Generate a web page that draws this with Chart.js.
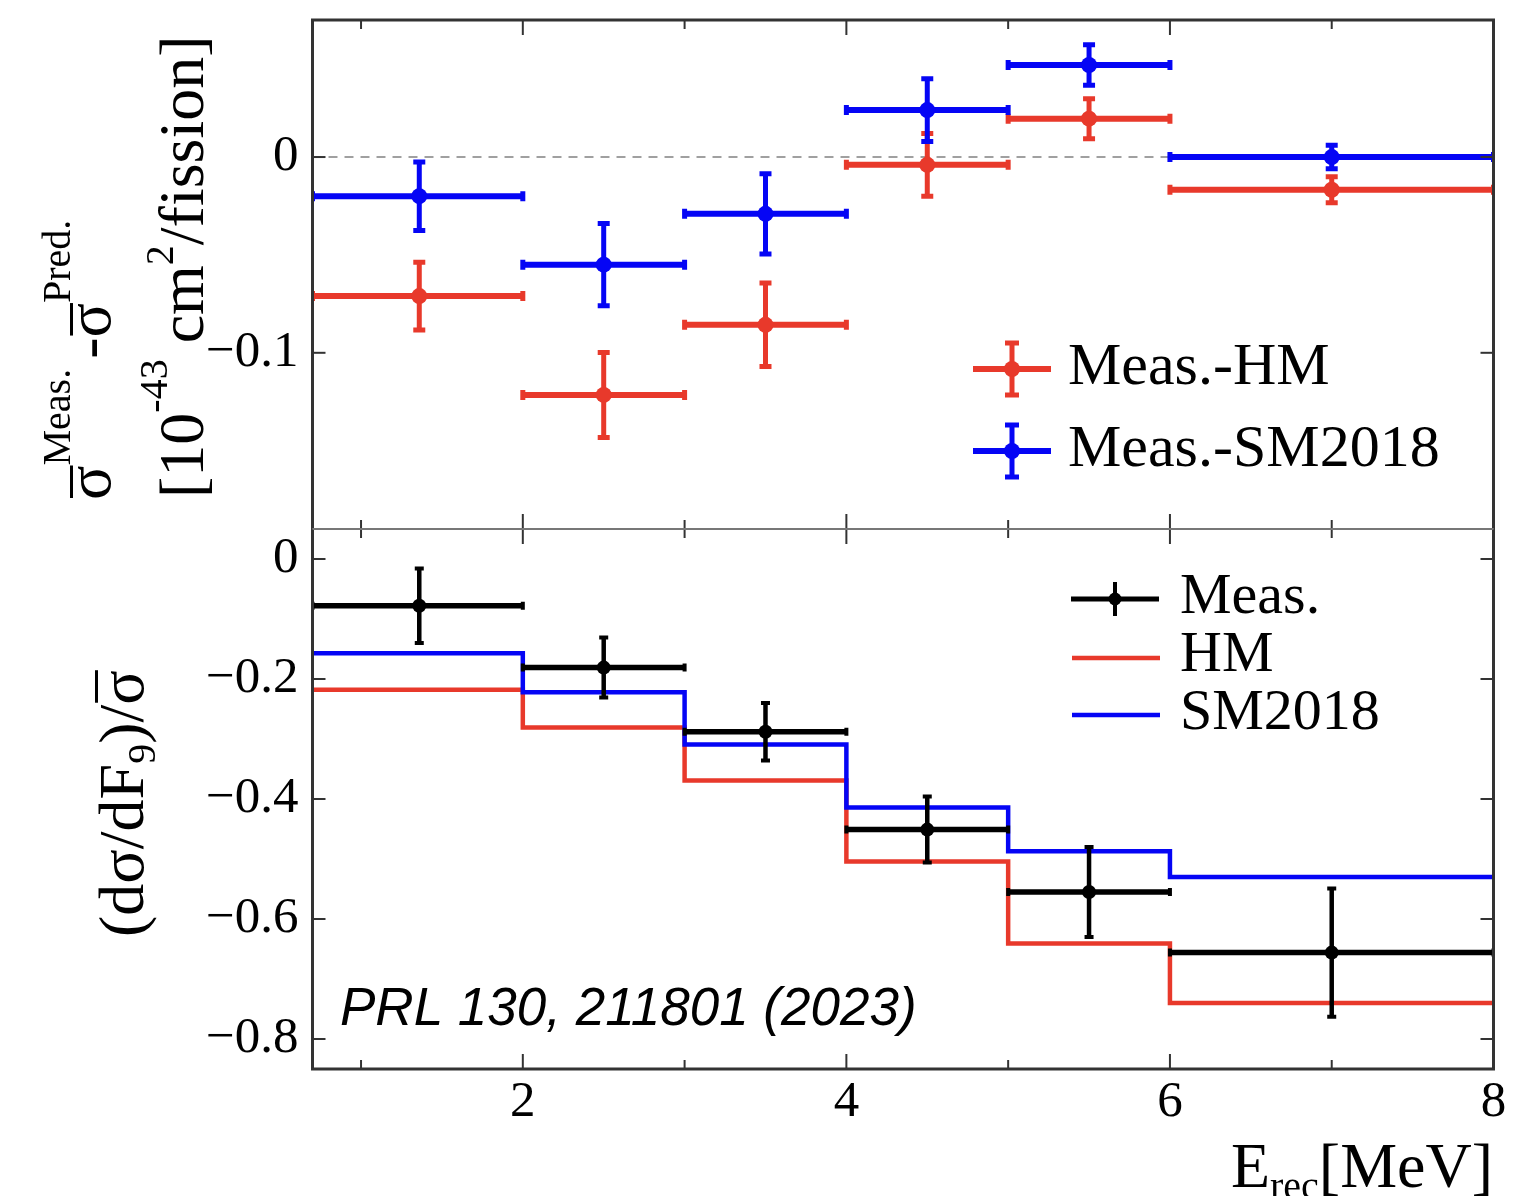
<!DOCTYPE html>
<html>
<head>
<meta charset="utf-8">
<title>Cross-section differences and slope</title>
<script src="https://cdn.jsdelivr.net/npm/chart.js@4.4.1/dist/chart.umd.min.js"></script>
<style>
html,body{margin:0;padding:0;background:#fff;overflow:hidden;}
#wrap{position:relative;width:1536px;height:1196px;background:#fff;}
#wrap canvas{position:absolute;left:0;top:0;}
</style>
</head>
<body>
<div id="wrap">
<canvas id="cTop" width="1536" height="1196"></canvas>
<canvas id="cBot" width="1536" height="1196"></canvas>
</div>
<script>
// ---------------- data ----------------
const binLow    = [0.7, 2, 3, 4, 5, 6];
const binHigh   = [2, 3, 4, 5, 6, 8];
const binCenter = [1.36, 2.5, 3.5, 4.5, 5.5, 7.0];

// top panel: sigma_meas - sigma_pred  [1e-43 cm2/fission]
const topSeriesNames = ['Meas.-HM', 'Meas.-SM2018'];
const measMinusHM      = [-0.071, -0.1215, -0.0857, -0.004, 0.0196, -0.0167];
const measMinusHMErr   = [0.0173, 0.0217, 0.0213, 0.016, 0.0102, 0.0066];
const measMinusSM      = [-0.020, -0.055, -0.029, 0.024, 0.047, 0.000];
const measMinusSMErr   = [0.0175, 0.021, 0.0205, 0.016, 0.0103, 0.006];

// bottom panel: (dsigma/dF9)/sigma
const botSeriesNames = ['Meas.', 'HM', 'SM2018'];
const measSlope    = [-0.078, -0.181, -0.288, -0.451, -0.555, -0.656];
const measSlopeErr = [0.062, 0.050, 0.048, 0.055, 0.075, 0.107];
const hmSlope      = [-0.218, -0.281, -0.369, -0.504, -0.641, -0.740];
const smSlope      = [-0.157, -0.222, -0.309, -0.414, -0.487, -0.530];

// axes
const xRange = [0.7, 8];
const xTickLabels = [2, 4, 6, 8];
const xTickMarks = [1, 2, 3, 4, 5, 6, 7];
const topYRange = [-0.19, 0.07];
const topYTicks = [0, -0.1];
const botYRange = [-0.85, 0.05];
const botYTicks = [0, -0.2, -0.4, -0.6, -0.8];
const refText = 'PRL 130, 211801 (2023)';

// ---------------- style ----------------
const RED = '#e8392b';
const BLUE = '#0505f5';
const BLACK = '#000000';
const SERIF = '"Liberation Serif", "Times New Roman", serif';
const AREA = {left: 312.5, right: 1493.5, top: 20, mid: 529, bottom: 1069};

function fmt(v) {
  if (Math.abs(v) < 1e-9) return '0';
  const s = String(Math.round(Math.abs(v) * 1000) / 1000);
  return (v < 0 ? '\u2212' : '') + s;
}

function errorBarDatasets(label, y, e, color, st) {
  const h = [], v = [];
  for (let i = 0; i < y.length; i++) {
    h.push({x: binLow[i], y: y[i]}, {x: binHigh[i], y: y[i]}, {x: binHigh[i], y: null});
    v.push({x: binCenter[i], y: y[i] - e[i]}, {x: binCenter[i], y: y[i] + e[i]}, {x: binCenter[i], y: null});
  }
  const pts = binCenter.map((x, i) => ({x, y: y[i]}));
  return [
    {label: label, data: pts, showLine: false, pointStyle: 'circle', pointRadius: st.dot,
     pointBackgroundColor: color, pointBorderColor: color, pointBorderWidth: 0},
    {label: label + ' (err)', data: v, showLine: true, spanGaps: false, borderColor: color,
     borderWidth: st.vw, pointStyle: 'line', pointRotation: 0, pointRadius: st.capV,
     pointBorderWidth: st.capW, pointBorderColor: color},
    {label: label + ' (bin)', data: h, showLine: true, spanGaps: false, borderColor: color,
     borderWidth: st.hw, pointStyle: 'line', pointRotation: 90, pointRadius: st.capH,
     pointBorderWidth: st.capW, pointBorderColor: color}
  ];
}

function stepData(vals) {
  const d = vals.map((v, i) => ({x: binLow[i], y: v}));
  d.push({x: binHigh[binHigh.length - 1], y: vals[vals.length - 1]});
  return d;
}

function drawRich(ctx, parts, x, y, angle, align) {
  ctx.save();
  ctx.translate(x, y);
  if (angle) ctx.rotate(angle);
  ctx.fillStyle = '#000';
  ctx.textBaseline = 'alphabetic';
  ctx.textAlign = 'left';
  let total = 0;
  for (const p of parts) {
    ctx.font = p.size + 'px ' + SERIF;
    total += ctx.measureText(p.t).width + (p.gap || 0);
  }
  let cx = align === 'right' ? -total : 0;
  for (const p of parts) {
    ctx.font = p.size + 'px ' + SERIF;
    const w = ctx.measureText(p.t).width;
    ctx.fillText(p.t, cx, p.dy || 0);
    if (p.over) ctx.fillRect(cx + 2, -p.over, w - 2, 3);
    cx += w + (p.gap || 0);
  }
  ctx.restore();
}

function seg(ctx, x1, y1, x2, y2) {
  ctx.beginPath(); ctx.moveTo(x1, y1); ctx.lineTo(x2, y2); ctx.stroke();
}

function drawFrame(chart, yTicks, lightEdge) {
  const {ctx, chartArea: a, scales: {x, y}} = chart;
  ctx.save();
  ctx.strokeStyle = '#333';
  ctx.lineWidth = 2;
  for (const v of xTickMarks) {
    const px = x.getPixelForValue(v);
    const L = (v % 2 === 0) ? 15 : 9;
    seg(ctx, px, a.top, px, a.top + L);
    seg(ctx, px, a.bottom, px, a.bottom - L);
  }
  for (const v of yTicks) {
    const py = y.getPixelForValue(v);
    seg(ctx, a.left, py, a.left + 13, py);
    seg(ctx, a.right, py, a.right - 13, py);
  }
  ctx.lineWidth = 3;
  ctx.strokeStyle = '#333';
  seg(ctx, a.left, a.top, a.left, a.bottom);
  seg(ctx, a.right, a.top, a.right, a.bottom);
  if (lightEdge === 'bottom') seg(ctx, a.left - 1.5, a.top, a.right + 1.5, a.top);
  else seg(ctx, a.left - 1.5, a.bottom, a.right + 1.5, a.bottom);
  ctx.strokeStyle = '#777';
  ctx.lineWidth = 2;
  if (lightEdge === 'bottom') seg(ctx, a.left, a.bottom, a.right, a.bottom);
  else seg(ctx, a.left, a.top, a.right, a.top);
  ctx.restore();
}

function errSymbol(ctx, cx, cy, color, halfW, halfH, caps, dot, hw, vw) {
  ctx.save();
  ctx.strokeStyle = color; ctx.fillStyle = color;
  ctx.lineWidth = hw; seg(ctx, cx - halfW, cy, cx + halfW, cy);
  ctx.lineWidth = vw; seg(ctx, cx, cy - halfH, cx, cy + halfH);
  if (caps) {
    ctx.lineWidth = 5;
    seg(ctx, cx - 7, cy - halfH, cx + 7, cy - halfH);
    seg(ctx, cx - 7, cy + halfH, cx + 7, cy + halfH);
  }
  ctx.beginPath(); ctx.arc(cx, cy, dot, 0, Math.PI * 2); ctx.fill();
  ctx.restore();
}

const fixY = (w) => (s) => { s.width = w; s.paddingTop = 0; s.paddingBottom = 0; };
const fixX = (h) => (s) => { s.height = h; s.paddingLeft = 0; s.paddingRight = 0; };

// ---------------- top chart ----------------
const topStyle = {dot: 8, vw: 5, hw: 6, capV: 6, capH: 5, capW: 5};
const topDatasets = [
  ...errorBarDatasets(topSeriesNames[1], measMinusSM, measMinusSMErr, BLUE, topStyle),
  ...errorBarDatasets(topSeriesNames[0], measMinusHM, measMinusHMErr, RED, topStyle),
  {label: 'zero', data: [{x: xRange[0], y: 0}, {x: xRange[1], y: 0}], showLine: true,
   borderColor: '#a0a0a0', borderWidth: 2, borderDash: [9, 7], pointRadius: 0}
];

const topDeco = {
  id: 'topDeco',
  afterDatasetsDraw(chart) { drawFrame(chart, topYTicks, 'bottom'); },
  afterDraw(chart) {
    const ctx = chart.ctx;
    // y title, two lines
    drawRich(ctx, [
      {t: '\u03c3', size: 64, over: 40},
      {t: 'Meas.', size: 40, dy: -40, gap: 10},
      {t: '-', size: 64},
      {t: '\u03c3', size: 64, over: 40},
      {t: 'Pred.', size: 40, dy: -40}
    ], 110, 500, -Math.PI / 2);
    drawRich(ctx, [
      {t: '[10', size: 64},
      {t: '-43', size: 40, dy: -36},
      {t: ' cm', size: 64},
      {t: '2', size: 40, dy: -30},
      {t: '/fission]', size: 64}
    ], 203, 498, -Math.PI / 2);
    // legend
    const rows = [{n: topSeriesNames[0], c: RED, y: 369}, {n: topSeriesNames[1], c: BLUE, y: 451}];
    for (const r of rows) {
      errSymbol(ctx, 1012, r.y, r.c, 39, 26, true, 8, 6, 5);
      ctx.save();
      ctx.fillStyle = '#000';
      ctx.font = '60px ' + SERIF;
      ctx.textBaseline = 'alphabetic';
      ctx.fillText(r.n, 1068, r.y + 15);
      ctx.restore();
    }
  }
};

new Chart(document.getElementById('cTop'), {
  type: 'scatter',
  data: {datasets: topDatasets},
  options: {
    responsive: false, animation: false, events: [],
    layout: {padding: {top: AREA.top, right: 1536 - AREA.right, left: 0, bottom: 0}},
    plugins: {legend: {display: false}, tooltip: {enabled: false}, title: {display: false}},
    scales: {
      x: {type: 'linear', min: xRange[0], max: xRange[1],
          grid: {display: false, drawTicks: false}, border: {display: false},
          ticks: {display: false}, afterFit: fixX(1196 - AREA.mid)},
      y: {type: 'linear', min: topYRange[0], max: topYRange[1],
          grid: {display: false, drawTicks: false}, border: {display: false},
          afterBuildTicks: (s) => { s.ticks = topYTicks.map(v => ({value: v})); },
          ticks: {color: '#000', padding: 14, font: {family: SERIF, size: 51, lineHeight: 1},
                  callback: (v) => fmt(v)},
          afterFit: fixY(AREA.left)}
    }
  },
  plugins: [topDeco]
});

// ---------------- bottom chart ----------------
const botStyle = {dot: 7, vw: 4.5, hw: 5.5, capV: 4.5, capH: 4, capW: 4};
const botDatasets = [
  ...errorBarDatasets(botSeriesNames[0], measSlope, measSlopeErr, BLACK, botStyle),
  {label: botSeriesNames[2], data: stepData(smSlope), showLine: true, stepped: 'before',
   borderColor: BLUE, borderWidth: 4.5, pointRadius: 0},
  {label: botSeriesNames[1], data: stepData(hmSlope), showLine: true, stepped: 'before',
   borderColor: RED, borderWidth: 4.5, pointRadius: 0}
];

const botDeco = {
  id: 'botDeco',
  afterDatasetsDraw(chart) { drawFrame(chart, botYTicks, 'top'); },
  afterDraw(chart) {
    const ctx = chart.ctx;
    drawRich(ctx, [
      {t: '(d\u03c3/dF', size: 64},
      {t: '9', size: 40, dy: 12},
      {t: ')/', size: 64},
      {t: '\u03c3', size: 64, over: 48}
    ], 143, 937, -Math.PI / 2);
    drawRich(ctx, [
      {t: 'E', size: 64},
      {t: 'rec', size: 40, dy: 12},
      {t: '[MeV]', size: 64}
    ], 1493, 1187, 0, 'right');
    // legend
    ctx.save();
    errSymbol(ctx, 1115, 599, BLACK, 44, 17, false, 6.5, 5, 4);
    ctx.strokeStyle = RED; ctx.lineWidth = 4.5; seg(ctx, 1072, 658, 1160, 658);
    ctx.strokeStyle = BLUE; ctx.lineWidth = 4.5; seg(ctx, 1072, 715, 1160, 715);
    ctx.fillStyle = '#000';
    ctx.font = '58px ' + SERIF;
    ctx.fillText(botSeriesNames[0], 1180, 613);
    ctx.fillText(botSeriesNames[1], 1180, 671);
    ctx.fillText(botSeriesNames[2], 1180, 729);
    ctx.font = 'italic 53px "Liberation Sans", Arial, sans-serif';
    ctx.fillText(refText, 340, 1025);
    ctx.restore();
  }
};

new Chart(document.getElementById('cBot'), {
  type: 'scatter',
  data: {datasets: botDatasets},
  options: {
    responsive: false, animation: false, events: [],
    layout: {padding: {top: AREA.mid, right: 1536 - AREA.right, left: 0, bottom: 0}},
    plugins: {legend: {display: false}, tooltip: {enabled: false}, title: {display: false}},
    scales: {
      x: {type: 'linear', min: xRange[0], max: xRange[1],
          grid: {display: false, drawTicks: false}, border: {display: false},
          afterBuildTicks: (s) => { s.ticks = xTickLabels.map(v => ({value: v})); },
          ticks: {color: '#000', padding: 8, maxRotation: 0, autoSkip: false,
                  font: {family: SERIF, size: 51, lineHeight: 1}, callback: (v) => fmt(v)},
          afterFit: fixX(1196 - AREA.bottom)},
      y: {type: 'linear', min: botYRange[0], max: botYRange[1],
          grid: {display: false, drawTicks: false}, border: {display: false},
          afterBuildTicks: (s) => { s.ticks = botYTicks.map(v => ({value: v})); },
          ticks: {color: '#000', padding: 14, font: {family: SERIF, size: 51, lineHeight: 1},
                  callback: (v) => fmt(v)},
          afterFit: fixY(AREA.left)}
    }
  },
  plugins: [botDeco]
});
</script>
</body>
</html>
